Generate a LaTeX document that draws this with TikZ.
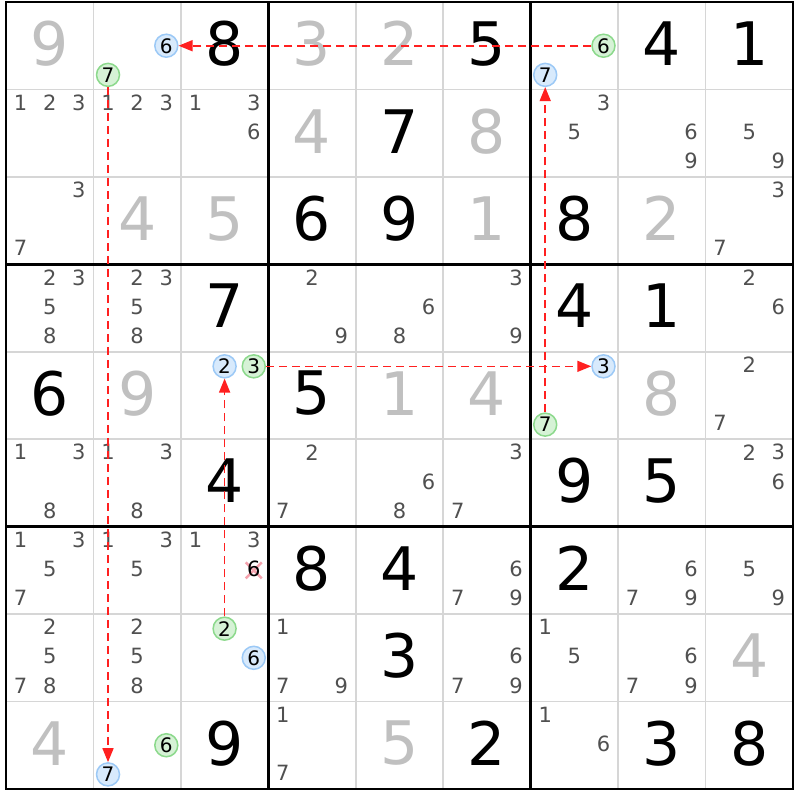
\documentclass[tikz,border=0pt]{standalone}
\usepackage{xcolor}
\usepackage{fontspec}
\setmainfont{DejaVu Sans}
\usetikzlibrary{arrows.meta, calc}

\definecolor{candgray}{HTML}{505050}
\definecolor{solvedgray}{HTML}{C0C0C0}
\definecolor{thingray}{HTML}{D6D6D6}
\definecolor{linkred}{HTML}{FF2020}
\definecolor{onfill}{HTML}{D8EAFC}
\definecolor{onedge}{HTML}{9CC9F6}
\definecolor{offfill}{HTML}{D6F2D6}
\definecolor{offedge}{HTML}{8CD98C}
\definecolor{crosspink}{HTML}{F5A3AE}

\newcommand{\cellsz}{87.44}

\tikzset{
  given/.style={font=\fontsize{60}{60}\selectfont, inner sep=0pt, text=black, yshift=2pt},
  solved/.style={given, text=solvedgray},
  cand/.style={font=\fontsize{21}{21}\selectfont, inner sep=0pt, text=candgray, yshift=1.5pt},
  ringbase/.style={circle, minimum size=23pt, inner sep=0pt, line width=1.5pt,
    font=\fontsize{20}{20}\selectfont, text=black},
  oncand/.style={ringbase, draw=onedge, fill=onfill},
  offcand/.style={ringbase, draw=offedge, fill=offfill},
  link/.style={draw=linkred, line width=1.6pt, dash pattern=on 8pt off 5pt,
    -{Triangle[length=14pt, width=11pt]}}
}

% big digit in a cell: style, row, column, digit
\newcommand{\cellnum}[4]{%
  \node[#1] (d#2#3) at ({6+(#3-0.5)*\cellsz},{2+(#2-0.5)*\cellsz}) {#4};}
% pencil marks: row, column, list of digits
\newcommand{\pencil}[3]{%
  \foreach \n in {#3}{
    \pgfmathsetmacro\dx{mod(\n-1,3)-1}
    \pgfmathsetmacro\dy{floor((\n-1)/3)-1}
    \node[cand] (p#1#2\n) at ({6+(#2-0.5+\dx/3)*\cellsz},{2+(#1-0.5+\dy/3)*\cellsz}) {\n};
  }}
% ringed candidate: style, row, column, digit
\newcommand{\ringcand}[4]{%
  \pgfmathsetmacro\dx{mod(#4-1,3)-1}
  \pgfmathsetmacro\dy{floor((#4-1)/3)-1}
  \node[#1] (r#2#3#4) at ({6+(#3-0.5+\dx/3)*\cellsz},{2+(#2-0.5+\dy/3)*\cellsz}) {#4};}

\begin{document}
\begin{tikzpicture}[x=1pt, y=-1pt]
	\fill[white] (0,0) rectangle (800,800);
	\useasboundingbox (0,0) rectangle (800,800);
	
	% Thin cell lines
	\foreach \i in {1,2,4,5,7,8} {
		\draw[thingray, line width=1.6pt] ({6+\i*\cellsz},2) -- ({6+\i*\cellsz},789);
		\draw[thingray, line width=1.6pt] (6,{2+\i*\cellsz}) -- (793,{2+\i*\cellsz});
	}
	
	% Box lines
	\foreach \i in {3,6} {
		\draw[line width=2.8pt] ({6+\i*\cellsz},2) -- ({6+\i*\cellsz},789);
		\draw[line width=2.8pt] (6,{2+\i*\cellsz}) -- (793,{2+\i*\cellsz});
	}
	\draw[line width=2.8pt] (6,2) rectangle (793,789);
	
	% Givens
	\foreach \r/\c/\d in {1/3/8, 1/6/5, 1/8/4, 1/9/1, 2/5/7, 3/4/6, 3/5/9, 3/7/8,
		4/3/7, 4/7/4, 4/8/1, 5/1/6, 5/4/5, 6/3/4, 6/7/9, 6/8/5, 7/4/8, 7/5/4,
		7/7/2, 8/5/3, 9/3/9, 9/6/2, 9/8/3, 9/9/8}
		{\cellnum{given}{\r}{\c}{\d}}
	
	% Solved cells
	\foreach \r/\c/\d in {1/1/9, 1/4/3, 1/5/2, 2/4/4, 2/6/8, 3/2/4, 3/3/5, 3/6/1,
		3/8/2, 5/2/9, 5/5/1, 5/6/4, 5/8/8, 8/9/4, 9/1/4, 9/5/5}
		{\cellnum{solved}{\r}{\c}{\d}}
	
	% Pencil marks
	\pencil{2}{1}{1,2,3} \pencil{2}{2}{1,2,3} \pencil{2}{3}{1,3,6}
	\pencil{2}{7}{3,5} \pencil{2}{8}{6,9} \pencil{2}{9}{5,9}
	\pencil{3}{1}{3,7} \pencil{3}{9}{3,7}
	\pencil{4}{1}{2,3,5,8} \pencil{4}{2}{2,3,5,8} \pencil{4}{4}{2,9}
	\pencil{4}{5}{6,8} \pencil{4}{6}{3,9} \pencil{4}{9}{2,6}
	\pencil{5}{9}{2,7}
	\pencil{6}{1}{1,3,8} \pencil{6}{2}{1,3,8} \pencil{6}{4}{2,7}
	\pencil{6}{5}{6,8} \pencil{6}{6}{3,7} \pencil{6}{9}{2,3,6}
	\pencil{7}{1}{1,3,5,7} \pencil{7}{2}{1,3,5} \pencil{7}{3}{1,3}
	\pencil{7}{6}{6,7,9} \pencil{7}{8}{6,7,9} \pencil{7}{9}{5,9}
	\pencil{8}{1}{2,5,7,8} \pencil{8}{2}{2,5,8} \pencil{8}{4}{1,7,9}
	\pencil{8}{6}{6,7,9} \pencil{8}{7}{1,5} \pencil{8}{8}{6,7,9}
	\pencil{9}{4}{1,7} \pencil{9}{7}{1,6}
	
	% Eliminated candidate
	\coordinate (elim) at ({6+2.5*\cellsz+\cellsz/3},{2+6.5*\cellsz});
	\draw[crosspink, line width=2.6pt] ($(elim)+(-8,-8)$) -- ($(elim)+(8,8)$);
	\draw[crosspink, line width=2.6pt] ($(elim)+(-8,8)$) -- ($(elim)+(8,-8)$);
	\node[cand, text=black] (x736) at (elim) {6};
	
	% Chain candidates
	\ringcand{oncand}{1}{2}{6} \ringcand{offcand}{1}{2}{7}
	\ringcand{offcand}{1}{7}{6} \ringcand{oncand}{1}{7}{7}
	\ringcand{oncand}{5}{3}{2} \ringcand{offcand}{5}{3}{3}
	\ringcand{oncand}{5}{7}{3} \ringcand{offcand}{5}{7}{7}
	\ringcand{offcand}{8}{3}{2} \ringcand{oncand}{8}{3}{6}
	\ringcand{offcand}{9}{2}{6} \ringcand{oncand}{9}{2}{7}
	
	% Links
	\draw[link] (r176) -- (r126);
	\draw[link] (r127) -- (r927);
	\draw[link] (r577) -- (r177);
	\draw[link] (r533) -- (r573);
	\draw[link] (r832) -- (r532);
\end{tikzpicture}
\end{document}
